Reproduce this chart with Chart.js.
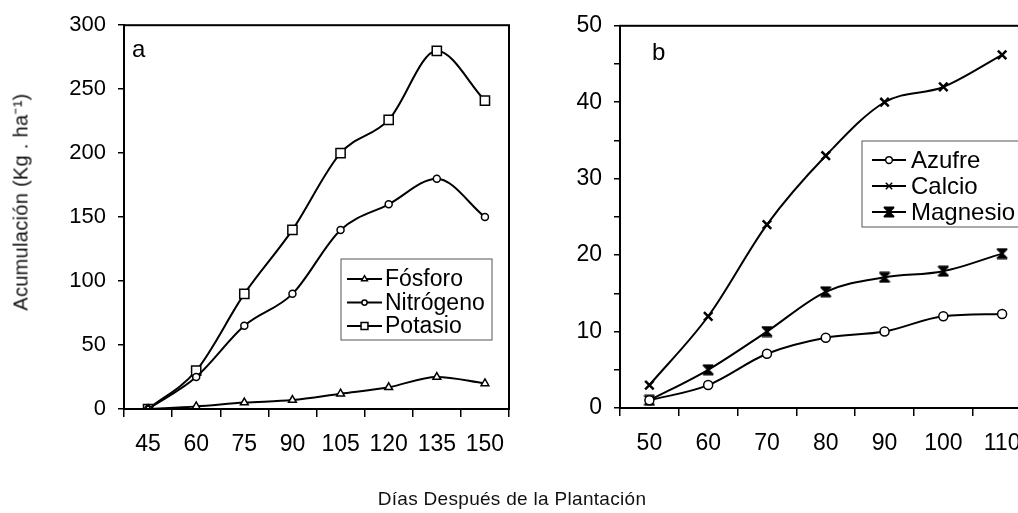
<!DOCTYPE html>
<html>
<head>
<meta charset="utf-8">
<script src="https://cdn.jsdelivr.net/npm/chart.js@4.4.0/dist/chart.umd.min.js"></script>
<style>
html, body { margin:0; padding:0; background:#fff; overflow:hidden; width:1018px; height:513px; }
canvas { position:absolute; top:0; }
#chartA { left:0; }
#chartB { left:540px; }
.txt { position:absolute; font-family:"Liberation Sans", Arial, sans-serif; color:#111; white-space:nowrap; }
#ytitle { left:20px; top:202px; font-size:20px; letter-spacing:0.3px; transform:translate(-50%,-50%) rotate(-90deg); }
#xtitle { left:512px; top:499px; font-size:19px; letter-spacing:0.3px; transform:translate(-50%,-50%); }
</style>
</head>
<body>
<canvas id="chartA" width="530" height="513"></canvas>
<canvas id="chartB" width="500" height="513"></canvas>
<div class="txt" id="ytitle">Acumulación (Kg . ha⁻¹)</div>
<div class="txt" id="xtitle">Días Después de la Plantación</div>
<script>
// panel a - macronutrientes
let diasA = ['45', '60', '75', '90', '105', '120', '135', '150'];
let fosforo = [0, 2, 5, 7, 12, 17, 25, 20];
let nitrogeno = [0, 25, 65, 90, 140, 160, 180, 150];
let potasio = [0, 30, 90, 140, 200, 226, 280, 241];

// panel b - secundarios
let diasB = ['50', '60', '70', '80', '90', '100', '110'];
let azufre = [1, 3, 7.1, 9.2, 10, 12, 12.3];
let calcio = [3, 12, 24, 33, 40, 42, 46.2];
let magnesio = [1, 5, 10, 15.2, 17.1, 17.9, 20.2];

const FONT = '"Liberation Sans", Arial, sans-serif';

// marker for magnesio (x with bars)
function hourglass() {
  let c = document.createElement('canvas');
  c.width = 12; c.height = 12;
  let g = c.getContext('2d');
  g.strokeStyle = '#000';
  g.lineWidth = 2;
  g.beginPath();
  g.moveTo(1, 1); g.lineTo(11, 11);
  g.moveTo(11, 1); g.lineTo(1, 11);
  g.moveTo(1, 1.5); g.lineTo(11, 1.5);
  g.moveTo(1, 10.5); g.lineTo(11, 10.5);
  g.stroke();
  g.fillStyle = '#000';
  g.beginPath(); g.moveTo(2, 2); g.lineTo(10, 2); g.lineTo(6, 6); g.closePath(); g.fill();
  g.beginPath(); g.moveTo(2, 10); g.lineTo(10, 10); g.lineTo(6, 6); g.closePath(); g.fill();
  return c;
}

// box round the plot, panel letter and the framed legend
const panelPlugin = {
  id: 'panel',
  afterDraw(chart, args, opts) {
    const ctx = chart.ctx;
    const a = chart.chartArea;
    ctx.save();
    ctx.strokeStyle = '#000';
    ctx.lineWidth = 2;
    ctx.strokeRect(a.left, a.top, a.right - a.left, a.bottom - a.top);

    ctx.fillStyle = '#000';
    ctx.font = '24px ' + FONT;
    ctx.textBaseline = 'middle';
    ctx.fillText(opts.letter, opts.letterX, opts.letterY);

    const L = opts.legend;
    ctx.lineWidth = 1;
    ctx.strokeStyle = '#555';
    ctx.strokeRect(L.x, L.y, L.w, L.h);
    ctx.font = L.size + 'px ' + FONT;
    chart.data.datasets.forEach((ds, i) => {
      const y = L.row0 + i * L.gap;
      ctx.strokeStyle = '#000';
      ctx.lineWidth = 2;
      ctx.beginPath();
      ctx.moveTo(L.x1, y);
      ctx.lineTo(L.x2, y);
      ctx.stroke();
      ctx.fillStyle = '#fff';
      ctx.lineWidth = 1.5;
      Chart.helpers.drawPoint(ctx, {
        pointStyle: ds.pointStyle,
        radius: ds.pointRadius * 0.75,
        borderWidth: ds.pointBorderWidth,
        rotation: 0
      }, (L.x1 + L.x2) / 2, y);
      ctx.fillStyle = '#000';
      ctx.fillText(ds.label, L.tx, y + 1);
    });
    ctx.restore();
  }
};

function serie(label, data, style, radius, bw) {
  return {
    label: label,
    data: data,
    borderColor: '#000',
    borderWidth: 2,
    pointStyle: style,
    pointRadius: radius,
    pointBorderWidth: bw,
    pointBackgroundColor: '#fff',
    pointBorderColor: '#000',
    cubicInterpolationMode: 'monotone',
    fill: false
  };
}

function axes(labels, yMax, yStep, yLabelEvery, leftWidth, bottomHeight, xSize, ySize) {
  return {
    x: {
      type: 'category',
      offset: true,
      grid: { offset: true, drawOnChartArea: false, color: '#000', tickLength: 8, lineWidth: 1.5 },
      border: { color: '#000', width: 2 },
      ticks: { color: '#000', font: { family: FONT, size: xSize }, padding: 14, maxRotation: 0, autoSkip: false },
      afterFit: s => { s.height = bottomHeight; }
    },
    y: {
      min: 0,
      max: yMax,
      grid: { drawOnChartArea: false, color: '#000', tickLength: 6, lineWidth: 1.5 },
      border: { color: '#000', width: 2 },
      ticks: {
        stepSize: yStep,
        autoSkip: false,
        color: '#000',
        padding: 12,
        font: { family: FONT, size: ySize },
        callback: v => (v % yLabelEvery === 0 ? v : '')
      },
      afterFit: s => { s.width = leftWidth; }
    }
  };
}

let chartA = new Chart(document.getElementById('chartA'), {
  type: 'line',
  data: {
    labels: diasA,
    datasets: [
      serie('Fósforo', fosforo, 'triangle', 4.5, 1.5),
      serie('Nitrógeno', nitrogeno, 'circle', 3.5, 1.5),
      serie('Potasio', potasio, 'rect', 6.5, 1.5)
    ]
  },
  options: {
    responsive: false,
    animation: false,
    devicePixelRatio: 1,
    layout: { padding: { top: 24, right: 21, left: 0, bottom: 0 } },
    scales: axes(diasA, 300, 50, 50, 124, 104, 23, 22),
    plugins: {
      legend: { display: false },
      tooltip: { enabled: false },
      panel: {
        letter: 'a', letterX: 132, letterY: 50,
        legend: { x: 341, y: 259, w: 151, h: 81, row0: 279, gap: 23.5, x1: 347, x2: 382, tx: 385, size: 23 }
      }
    }
  },
  plugins: [panelPlugin]
});

let chartB = new Chart(document.getElementById('chartB'), {
  type: 'line',
  data: {
    labels: diasB,
    datasets: [
      serie('Azufre', azufre, 'circle', 4.5, 1.5),
      serie('Calcio', calcio, 'crossRot', 6, 2.5),
      serie('Magnesio', magnesio, hourglass(), 6, 1.5)
    ]
  },
  options: {
    responsive: false,
    animation: false,
    devicePixelRatio: 1,
    layout: { padding: { top: 25, right: 6, left: 0, bottom: 0 } },
    scales: axes(diasB, 50, 5, 10, 80, 105, 23, 23),
    plugins: {
      legend: { display: false },
      tooltip: { enabled: false },
      panel: {
        letter: 'b', letterX: 112, letterY: 53,
        legend: { x: 322, y: 141, w: 200, h: 86, row0: 160, gap: 26, x1: 332, x2: 366, tx: 371, size: 24 }
      }
    }
  },
  plugins: [panelPlugin]
});
</script>
</body>
</html>
